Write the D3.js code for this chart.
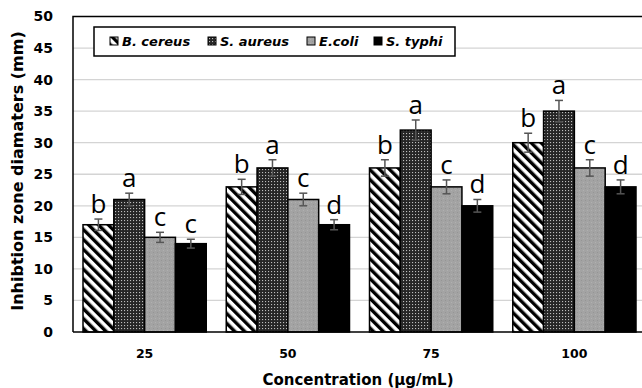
<!DOCTYPE html>
<html>
<head>
<meta charset="utf-8">
<script src="https://cdn.jsdelivr.net/npm/d3@7"></script>
<style>
  body { margin: 0; background: #fff; }
  svg { display: block; }
</style>
</head>
<body>
<div id="viz"></div>
<script>
var concentrations = ['25', '50', '75', '100'];
var bacteria = ['B. cereus', 'S. aureus', 'E.coli', 'S. typhi'];

// mean inhibition zone (mm) per bacterium, one value per concentration
var bCereus = [17, 23, 26, 30];
var sAureus = [21, 26, 32, 35];
var eColi   = [15, 21, 23, 26];
var sTyphi  = [14, 17, 20, 23];

// error bar half-lengths
var bCereusErr = [0.9, 1.2, 1.3, 1.5];
var sAureusErr = [1.0, 1.3, 1.6, 1.7];
var eColiErr   = [0.8, 1.0, 1.1, 1.3];
var sTyphiErr  = [0.7, 0.8, 1.0, 1.1];

// significance letters
var bCereusSig = ['b', 'b', 'b', 'b'];
var sAureusSig = ['a', 'a', 'a', 'a'];
var eColiSig   = ['c', 'c', 'c', 'c'];
var sTyphiSig  = ['c', 'd', 'd', 'd'];

var yTicks = [0, 5, 10, 15, 20, 25, 30, 35, 40, 45, 50];

var width = 642,
    height = 388,
    plotLeft = 73,
    plotRight = 646,
    plotTop = 16.5,
    plotBottom = 332;

var seriesVals = [bCereus, sAureus, eColi, sTyphi];
var seriesErr = [bCereusErr, sAureusErr, eColiErr, sTyphiErr];
var seriesSig = [bCereusSig, sAureusSig, eColiSig, sTyphiSig];
var fills = ['url(#stripes)', 'url(#dots)', 'url(#grain)', '#000'];

var rows = [];
concentrations.forEach(function(c, i) {
  bacteria.forEach(function(b, j) {
    rows.push({conc: c, bac: b, v: seriesVals[j][i], e: seriesErr[j][i], sig: seriesSig[j][i], fill: fills[j]});
  });
});

var svg = d3.select('#viz').append('svg')
  .attr('width', width)
  .attr('height', height);

var defs = svg.append('defs');

var stripes = defs.append('pattern')
  .attr('id', 'stripes')
  .attr('patternUnits', 'userSpaceOnUse')
  .attr('width', 7)
  .attr('height', 7)
  .attr('patternTransform', 'rotate(-45)');
stripes.append('rect').attr('width', 7).attr('height', 7).attr('fill', '#fff');
stripes.append('rect').attr('width', 3.4).attr('height', 7).attr('fill', '#000');

var dots = defs.append('pattern')
  .attr('id', 'dots')
  .attr('patternUnits', 'userSpaceOnUse')
  .attr('width', 3)
  .attr('height', 3);
dots.append('rect').attr('width', 3).attr('height', 3).attr('fill', '#262626');
dots.append('rect').attr('x', 1).attr('y', 1).attr('width', 1.1).attr('height', 1.1).attr('fill', '#bdbdbd');

var grain = defs.append('pattern')
  .attr('id', 'grain')
  .attr('patternUnits', 'userSpaceOnUse')
  .attr('width', 4)
  .attr('height', 4);
grain.append('rect').attr('width', 4).attr('height', 4).attr('fill', '#a3a3a3');
grain.append('rect').attr('x', 1).attr('y', 0).attr('width', 1).attr('height', 1).attr('fill', '#959595');
grain.append('rect').attr('x', 3).attr('y', 2).attr('width', 1).attr('height', 1).attr('fill', '#b0b0b0');

var x0 = d3.scaleBand()
  .domain(concentrations)
  .range([plotLeft, plotRight])
  .padding(0);

var x1 = d3.scaleBand()
  .domain(bacteria)
  .range([10, x0.bandwidth() - 10])
  .padding(0);

var y = d3.scaleLinear()
  .domain([0, 50])
  .range([plotBottom, plotTop]);

// gridlines
svg.append('g')
  .selectAll('line').data(yTicks.slice(1, -1))
  .enter().append('line')
    .attr('x1', plotLeft).attr('x2', plotRight)
    .attr('y1', function(d) { return y(d); })
    .attr('y2', function(d) { return y(d); })
    .attr('stroke', '#d4d4d4')
    .attr('stroke-width', 1.3);

// frame
svg.append('path')
  .attr('d', 'M' + plotLeft + ',' + plotBottom + 'V' + plotTop + 'H' + plotRight)
  .attr('fill', 'none')
  .attr('stroke', '#000')
  .attr('stroke-width', 1.5);

// y axis labels
var yAxis = d3.axisLeft(y).tickValues(yTicks).tickSize(0).tickPadding(20);
svg.append('g')
  .attr('transform', 'translate(' + plotLeft + ',0)')
  .call(yAxis)
  .call(function(g) { g.select('.domain').remove(); })
  .selectAll('text')
    .attr('font-family', 'DejaVu Sans')
    .attr('font-weight', 'bold')
    .attr('font-size', '14px')
    .attr('fill', '#000');

// bars
svg.append('g')
  .selectAll('rect').data(rows)
  .enter().append('rect')
    .attr('x', function(d) { return x0(d.conc) + x1(d.bac); })
    .attr('y', function(d) { return y(d.v); })
    .attr('width', x1.bandwidth())
    .attr('height', function(d) { return plotBottom - y(d.v); })
    .attr('fill', function(d) { return d.fill; })
    .attr('stroke', '#000')
    .attr('stroke-width', 1.5);

// error bars
var eb = svg.append('g')
  .attr('stroke', '#555')
  .attr('stroke-width', 1.5)
  .selectAll('g').data(rows)
  .enter().append('g')
    .attr('transform', function(d) {
      return 'translate(' + (x0(d.conc) + x1(d.bac) + x1.bandwidth() / 2) + ',0)';
    });
eb.append('line')
  .attr('y1', function(d) { return y(d.v - d.e); })
  .attr('y2', function(d) { return y(d.v + d.e); });
eb.append('line')
  .attr('x1', -4).attr('x2', 4)
  .attr('y1', function(d) { return y(d.v + d.e); })
  .attr('y2', function(d) { return y(d.v + d.e); });
eb.append('line')
  .attr('x1', -4).attr('x2', 4)
  .attr('y1', function(d) { return y(d.v - d.e); })
  .attr('y2', function(d) { return y(d.v - d.e); });

// significance letters
svg.append('g')
  .selectAll('text').data(rows)
  .enter().append('text')
    .attr('x', function(d) { return x0(d.conc) + x1(d.bac) + x1.bandwidth() / 2; })
    .attr('y', function(d) { return y(d.v + d.e) - 6; })
    .attr('text-anchor', 'middle')
    .attr('font-family', 'Open Sans')
    .attr('font-size', '26px')
    .attr('fill', '#000')
    .text(function(d) { return d.sig; });

// baseline
svg.append('line')
  .attr('x1', plotLeft).attr('x2', plotRight)
  .attr('y1', plotBottom).attr('y2', plotBottom)
  .attr('stroke', '#000')
  .attr('stroke-width', 1.5);

// x axis labels
var xAxis = d3.axisBottom(x0).tickSize(0).tickPadding(17);
svg.append('g')
  .attr('transform', 'translate(0,' + plotBottom + ')')
  .call(xAxis)
  .call(function(g) { g.select('.domain').remove(); })
  .selectAll('text')
    .attr('font-family', 'DejaVu Sans')
    .attr('font-weight', 'bold')
    .attr('font-size', '12.5px')
    .attr('fill', '#000');

// axis titles
svg.append('text')
  .attr('x', 358)
  .attr('y', 385)
  .attr('text-anchor', 'middle')
  .attr('font-family', 'DejaVu Sans')
  .attr('font-weight', 'bold')
  .attr('font-size', '15px')
  .text('Concentration (µg/mL)');

svg.append('text')
  .attr('transform', 'translate(23,171) rotate(-90)')
  .attr('text-anchor', 'middle')
  .attr('font-family', 'DejaVu Sans')
  .attr('font-weight', 'bold')
  .attr('font-size', '16px')
  .text('Inhibtion zone diamaters (mm)');

// legend
var legend = svg.append('g');
legend.append('rect')
  .attr('x', 94).attr('y', 27)
  .attr('width', 361).attr('height', 29)
  .attr('fill', '#fff')
  .attr('stroke', '#000')
  .attr('stroke-width', 1.5);

var legendX = [110, 208, 307, 374];
var li = legend.selectAll('g.item').data(bacteria)
  .enter().append('g')
    .attr('class', 'item')
    .attr('transform', function(d, i) { return 'translate(' + legendX[i] + ',37)'; });
li.append('rect')
  .attr('width', 8).attr('height', 8)
  .attr('fill', function(d, i) { return fills[i]; })
  .attr('stroke', '#000')
  .attr('stroke-width', 1);
li.append('text')
  .attr('x', 12)
  .attr('y', 9)
  .attr('font-family', 'DejaVu Sans')
  .attr('font-weight', 'bold')
  .attr('font-style', 'italic')
  .attr('font-size', '13px')
  .text(function(d) { return d; });
</script>
</body>
</html>
